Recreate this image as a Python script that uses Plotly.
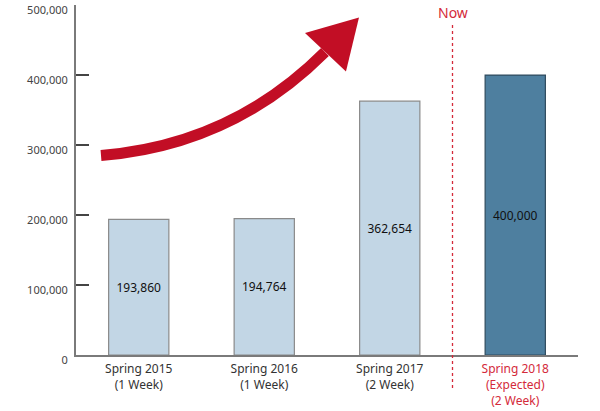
import plotly.graph_objects as go

categories = ["Spring 2015<br>(1 Week)", "Spring 2016<br>(1 Week)", "Spring 2017<br>(2 Week)",
              "<span style='color:#d42a3a'>Spring 2018<br>(Expected)<br>(2 Week)</span>"]
values = [193860, 194764, 362654, 400000]
labels = ["193,860", "194,764", "362,654", "400,000"]
bar_colors = ["#c2d6e5", "#c2d6e5", "#c2d6e5", "#4e7f9f"]
bar_lines = ["#8a8a8a", "#8a8a8a", "#8a8a8a", "#2f4b5e"]
y_ticks = [0, 100000, 200000, 300000, 400000, 500000]
y_ticktext = ["0", "100,000", "200,000", "300,000", "400,000", "500,000"]

L, R, T, B = 76, 22, 5, 56
W, H = 600, 411
pw, ph = W - L - R, H - T - B

def px(x):
    return (x - L) / pw

def py(y):
    return (H - B - y) / ph

fig = go.Figure()
fig.add_trace(go.Bar(
    x=categories, y=values, width=0.48,
    marker=dict(color=bar_colors, line=dict(color=bar_lines, width=1.2)),
    text=labels, textposition="inside", insidetextanchor="middle",
    textfont=dict(family="Noto Sans", size=12, color="#111"),
    textangle=0, hoverinfo="skip",
))

# curved arrow (decoration)
p0 = (101, 155.5); c = (232, 145); p2 = (325, 52)
path = "M {:.4f} {:.4f} Q {:.4f} {:.4f} {:.4f} {:.4f}".format(px(p0[0]), py(p0[1]), px(c[0]), py(c[1]), px(p2[0]), py(p2[1]))
head = "M {:.4f} {:.4f} L {:.4f} {:.4f} L {:.4f} {:.4f} Z".format(px(359), py(17.5), px(305), py(33), px(346), py(71.5))
shapes = [
    dict(type="path", xref="paper", yref="paper", path=path, line=dict(color="#c20e25", width=11)),
    dict(type="path", xref="paper", yref="paper", path=head, fillcolor="#c20e25", line=dict(width=0)),
    dict(type="line", xref="x", yref="paper", x0=2.5, x1=2.5, y0=py(388), y1=py(22),
         line=dict(color="#d42a3a", width=1.3, dash="dot")),
]

fig.update_layout(
    width=W, height=H, margin=dict(l=L, r=R, t=T, b=B, autoexpand=False),
    paper_bgcolor="white", plot_bgcolor="white",
    showlegend=False, shapes=shapes,
    font=dict(family="Noto Sans", size=12, color="#333"),
    annotations=[dict(x=2.5, xref="x", y=py(12), yref="paper", yanchor="middle", text="Now",
                      showarrow=False, font=dict(family="Noto Sans", size=14, color="#d42a3a"))],
    xaxis=dict(range=[-0.5, 3.5], showline=True, linecolor="#7a7a7a", linewidth=2,
               ticks="", showgrid=False, tickfont=dict(size=12, color="#333"),
               ticklabelstandoff=2, automargin=False),
    yaxis=dict(range=[0, 500050], tickvals=y_ticks, ticktext=y_ticktext, showline=True,
               linecolor="#7a7a7a", linewidth=2, ticks="inside", ticklen=13, tickwidth=1.5,
               tickcolor="#444", showgrid=False, zeroline=False, automargin=False,
               tickfont=dict(size=11, color="#444"), ticklabelshift=5, ticklabelstandoff=4),
)
fig.write_html("out.html")
